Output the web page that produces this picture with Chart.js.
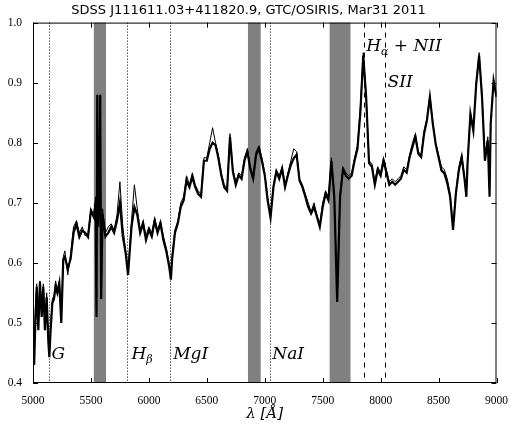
<!DOCTYPE html>
<html>
<head>
<meta charset="utf-8">
<script src="https://cdn.jsdelivr.net/npm/chart.js@4.4.0/dist/chart.umd.min.js"></script>
<style>
  html, body { margin: 0; padding: 0; background: #fff; }
  #wrap { width: 511px; height: 423px; }
</style>
</head>
<body>
<div id="wrap"><canvas id="spec"></canvas></div>
<script>
// wavelength grid (Angstrom) shared by both spectra
const wavelengths = [5000, 5010, 5020, 5032, 5046, 5060, 5075, 5089, 5103, 5118, 5132, 5141, 5152, 5167, 5181, 5195, 5210, 5227, 5244, 5261, 5275, 5300,
  5325, 5350, 5375, 5400, 5425, 5450, 5475, 5500, 5525,
  5540, 5548, 5555, 5562, 5572, 5580, 5588, 5600,
  5625, 5650, 5675, 5700, 5725, 5750, 5775, 5800, 5820, 5850, 5875, 5900, 5925, 5950, 5975, 6000, 6025, 6050, 6075, 6100, 6125, 6150, 6175, 6190, 6200, 6225, 6250, 6275, 6300, 6325, 6350, 6375, 6400, 6425, 6450, 6475, 6500, 6525, 6550, 6575, 6600, 6625, 6650, 6675, 6700, 6725, 6750, 6775, 6800, 6825, 6850, 6875, 6900, 6925, 6950, 6975, 7000, 7025, 7050, 7075, 7100, 7125, 7150, 7175, 7200, 7225, 7250, 7275, 7300, 7325, 7350, 7375, 7400, 7425, 7450, 7475, 7500, 7525, 7550, 7575, 7600, 7625, 7650, 7675, 7700, 7725, 7750, 7775, 7800, 7825, 7850, 7875, 7900, 7925, 7950, 7975, 8000, 8025, 8050, 8075, 8100, 8125, 8150, 8175, 8200, 8225, 8250, 8275, 8300, 8325, 8350, 8375, 8400, 8425, 8450, 8475, 8500, 8525, 8550, 8575, 8600, 8625, 8650, 8675, 8700, 8725, 8740, 8750, 8775, 8800, 8825, 8850, 8875, 8900, 8925, 8940, 8950, 8975, 9000];

// thick spectrum
const fluxThick = [0.484, 0.43, 0.50, 0.56, 0.488, 0.568, 0.51, 0.56, 0.488, 0.543, 0.47, 0.443, 0.488, 0.533, 0.54, 0.56, 0.55, 0.566, 0.50, 0.605, 0.61, 0.59,
  0.607, 0.65, 0.665, 0.643, 0.654, 0.65, 0.643, 0.687, 0.676,
  0.70, 0.51, 0.88, 0.66, 0.70, 0.88, 0.54, 0.68,
  0.644, 0.65, 0.66, 0.65, 0.67, 0.70, 0.644, 0.616, 0.58, 0.66, 0.693, 0.68, 0.65, 0.666, 0.638, 0.655, 0.644, 0.67, 0.65, 0.666, 0.638, 0.62, 0.594, 0.572, 0.605, 0.65, 0.666, 0.693, 0.704, 0.737, 0.726, 0.743, 0.726, 0.715, 0.71, 0.77, 0.77, 0.79, 0.80, 0.796, 0.774, 0.746, 0.726, 0.72, 0.81, 0.752, 0.73, 0.746, 0.74, 0.77, 0.785, 0.757, 0.74, 0.78, 0.79, 0.77, 0.746, 0.704, 0.675, 0.726, 0.752, 0.74, 0.757, 0.726, 0.746, 0.763, 0.774, 0.78, 0.737, 0.726, 0.71, 0.693, 0.682, 0.693, 0.677, 0.66, 0.693, 0.715, 0.704, 0.77, 0.71, 0.535, 0.71, 0.755, 0.745, 0.74, 0.745, 0.77, 0.79, 0.85, 0.945, 0.876, 0.766, 0.76, 0.73, 0.755, 0.745, 0.77, 0.75, 0.73, 0.735, 0.73, 0.735, 0.74, 0.755, 0.75, 0.776, 0.793, 0.81, 0.782, 0.776, 0.815, 0.838, 0.876, 0.832, 0.798, 0.776, 0.754, 0.749, 0.733, 0.71, 0.655, 0.716, 0.754, 0.776, 0.738, 0.71, 0.765, 0.848, 0.82, 0.898, 0.945, 0.876, 0.77, 0.804, 0.71, 0.832, 0.903, 0.876];

// thin spectrum (second reduction)
const fluxThin = [0.49, 0.44, 0.52, 0.565, 0.50, 0.57, 0.52, 0.565, 0.495, 0.55, 0.48, 0.45, 0.495, 0.54, 0.545, 0.57, 0.555, 0.57, 0.51, 0.61, 0.62, 0.58,
  0.615, 0.66, 0.67, 0.65, 0.66, 0.645, 0.65, 0.69, 0.68,
  0.71, 0.52, 0.87, 0.67, 0.71, 0.87, 0.55, 0.69,
  0.65, 0.66, 0.665, 0.655, 0.68, 0.735, 0.66, 0.62, 0.585, 0.67, 0.73, 0.69, 0.655, 0.67, 0.645, 0.66, 0.65, 0.675, 0.655, 0.67, 0.645, 0.625, 0.60, 0.58, 0.61, 0.655, 0.67, 0.70, 0.71, 0.745, 0.73, 0.75, 0.73, 0.72, 0.715, 0.775, 0.775, 0.80, 0.825, 0.80, 0.78, 0.75, 0.73, 0.725, 0.815, 0.755, 0.735, 0.75, 0.745, 0.775, 0.79, 0.76, 0.745, 0.785, 0.795, 0.775, 0.75, 0.71, 0.68, 0.73, 0.755, 0.745, 0.76, 0.73, 0.75, 0.77, 0.79, 0.785, 0.74, 0.73, 0.715, 0.70, 0.685, 0.70, 0.68, 0.665, 0.70, 0.72, 0.71, 0.775, 0.715, 0.54, 0.715, 0.76, 0.75, 0.745, 0.75, 0.775, 0.795, 0.86, 0.95, 0.88, 0.77, 0.765, 0.735, 0.76, 0.75, 0.775, 0.755, 0.735, 0.74, 0.735, 0.74, 0.745, 0.76, 0.755, 0.78, 0.80, 0.815, 0.785, 0.78, 0.82, 0.84, 0.88, 0.835, 0.80, 0.78, 0.76, 0.755, 0.74, 0.715, 0.66, 0.72, 0.76, 0.78, 0.74, 0.715, 0.77, 0.85, 0.825, 0.90, 0.95, 0.88, 0.775, 0.81, 0.715, 0.835, 0.905, 0.88];

// telluric bands (grey) and line markers
const bands = [[5525, 5630], [6855, 6965], [7560, 7740]];
const dottedLines = [5140, 5815, 6185, 7045];
const dashedLines = [7855, 8040];
const lineLabels = [
  { x: 5160, y: 0.44, main: 'G', sub: '' },
  { x: 5850, y: 0.44, main: 'H', sub: 'β' },
  { x: 6210, y: 0.44, main: 'MgI', sub: '' },
  { x: 7065, y: 0.44, main: 'NaI', sub: '' },
  { x: 7875, y: 0.953, main: 'H', sub: 'α', rest: ' + NII' },
  { x: 8060, y: 0.892, main: 'SII', sub: '' }
];

const xTicks = [5000, 5500, 6000, 6500, 7000, 7500, 8000, 8500, 9000];
const yTicks = [0.4, 0.5, 0.6, 0.7, 0.8, 0.9, 1.0];

const toPoints = (ys) => wavelengths.map((w, i) => ({ x: w, y: ys[i] }));

const decor = {
  id: 'decor',
  beforeDatasetsDraw(chart) {
    const { ctx, chartArea: a, scales: { x, y } } = chart;
    ctx.save();
    ctx.fillStyle = '#808080';
    bands.forEach(([b0, b1]) => {
      const p0 = x.getPixelForValue(b0), p1 = x.getPixelForValue(b1);
      ctx.fillRect(p0, a.top, p1 - p0, a.bottom - a.top);
    });
    ctx.strokeStyle = '#000';
    ctx.lineWidth = 1;
    ctx.setLineDash([1, 2]);
    dottedLines.forEach(v => {
      const p = Math.round(x.getPixelForValue(v)) + 0.5;
      ctx.beginPath(); ctx.moveTo(p, a.top); ctx.lineTo(p, a.bottom); ctx.stroke();
    });
    ctx.setLineDash([5, 5]);
    dashedLines.forEach(v => {
      const p = Math.round(x.getPixelForValue(v)) + 0.5;
      ctx.beginPath(); ctx.moveTo(p, a.top); ctx.lineTo(p, a.bottom); ctx.stroke();
    });
    ctx.restore();
  },
  afterDatasetsDraw(chart) {
    const { ctx, chartArea: a, scales: { x, y } } = chart;
    ctx.save();
    ctx.fillStyle = '#000';
    ctx.textBaseline = 'alphabetic';
    lineLabels.forEach(l => {
      let px = x.getPixelForValue(l.x);
      const py = y.getPixelForValue(l.y);
      ctx.font = 'italic 17px "DejaVu Serif"';
      ctx.fillText(l.main, px, py);
      px += ctx.measureText(l.main).width;
      if (l.sub) {
        ctx.font = 'italic 11px "DejaVu Serif"';
        ctx.fillText(l.sub, px, py + 4);
        px += ctx.measureText(l.sub).width;
      }
      if (l.rest) {
        ctx.font = '17px "DejaVu Serif"';
        ctx.fillText(' + ', px, py);
        px += ctx.measureText(' + ').width;
        ctx.font = 'italic 17px "DejaVu Serif"';
        ctx.fillText('NII', px, py);
      }
    });
    // frame and inward ticks
    ctx.strokeStyle = '#000';
    ctx.lineWidth = 1;
    ctx.strokeRect(a.left + 0.5, a.top + 0.5, a.right - a.left - 1, a.bottom - a.top - 1);
    ctx.beginPath();
    xTicks.forEach(v => {
      const p = Math.round(x.getPixelForValue(v)) + 0.5;
      ctx.moveTo(p, a.bottom); ctx.lineTo(p, a.bottom - 5);
      ctx.moveTo(p, a.top); ctx.lineTo(p, a.top + 5);
    });
    yTicks.forEach(v => {
      const p = Math.round(y.getPixelForValue(v)) + 0.5;
      ctx.moveTo(a.left, p); ctx.lineTo(a.left + 5, p);
      ctx.moveTo(a.right, p); ctx.lineTo(a.right - 5, p);
    });
    ctx.stroke();
    ctx.restore();
  }
};

new Chart(document.getElementById('spec'), {
  type: 'line',
  data: {
    datasets: [
      { data: toPoints(fluxThin), borderColor: '#000', borderWidth: 1, pointRadius: 0, tension: 0 },
      { data: toPoints(fluxThick), borderColor: '#000', borderWidth: 2.2, pointRadius: 0, tension: 0 }
    ]
  },
  options: {
    responsive: true,
    maintainAspectRatio: false,
    animation: false,
    layout: { padding: { left: 0, right: 14, top: 0, bottom: 0 } },
    plugins: {
      legend: { display: false },
      tooltip: { enabled: false },
      title: {
        display: true,
        text: 'SDSS J111611.03+411820.9, GTC/OSIRIS, Mar31 2011',
        color: '#000',
        font: { family: '"DejaVu Sans"', size: 13, weight: 'normal' },
        padding: { top: 3, bottom: 4 }
      }
    },
    scales: {
      x: {
        type: 'linear',
        min: 5000, max: 9000,
        grid: { display: false },
        border: { display: false },
        afterBuildTicks: s => { s.ticks = xTicks.map(v => ({ value: v })); },
        afterFit: s => { s.height = 40; },
        ticks: {
          color: '#000', padding: 3, maxRotation: 0,
          font: { family: '"Liberation Serif"', size: 11.5 },
          callback: v => String(v)
        },
        title: {
          display: true, text: 'λ [Å]', color: '#000',
          font: { family: '"DejaVu Serif"', size: 15, style: 'italic' },
          padding: { top: 0, bottom: 0 }
        }
      },
      y: {
        min: 0.4, max: 1.0,
        grid: { display: false },
        border: { display: false },
        afterBuildTicks: s => { s.ticks = yTicks.map(v => ({ value: v })); },
        afterFit: s => { s.width = 33; },
        ticks: {
          color: '#000', padding: 3,
          font: { family: '"Liberation Serif"', size: 11.5 },
          callback: v => v.toFixed(1)
        }
      }
    }
  },
  plugins: [decor]
});
</script>
</body>
</html>
